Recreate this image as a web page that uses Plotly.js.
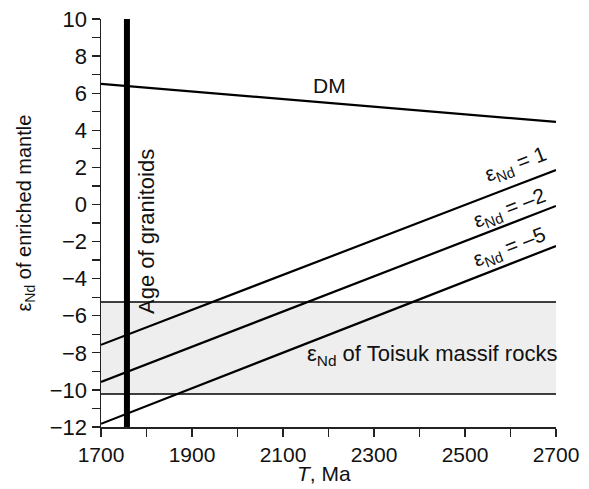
<!DOCTYPE html>
<html>
<head>
<meta charset="utf-8">
<script src="https://cdn.plot.ly/plotly-3.0.1.min.js"></script>
<style>html,body{margin:0;padding:0;background:#fff;}#chart{width:589px;height:489px;}</style>
</head>
<body>
<div id="chart"></div>
<script>
// ---- data ----
const ageEnds = [1700, 2700];            // T, Ma (line end points)
const dmEps = [6.5, 4.45];               // DM
const eps1 = [-7.57, 1.86];              // eNd = 1
const epsMinus2 = [-9.57, -0.08];        // eNd = -2
const epsMinus5 = [-11.83, -2.24];       // eNd = -5
const toisukLow = -10.22;                // band of eNd of Toisuk massif rocks
const toisukHigh = -5.26;
const granitoidAge = 1757;               // age of granitoids
const yExtent = [10, -12];
const xTickVals = [1700,1800,1900,2000,2100,2200,2300,2400,2500,2600,2700];
const xTickText = ["1700"," ","1900"," ","2100"," ","2300"," ","2500"," ","2700"];
const yTickVals = [-12,-11,-10,-9,-8,-7,-6,-5,-4,-3,-2,-1,0,1,2,3,4,5,6,7,8,9,10];
const yTickText = ["\u221212"," ","\u221210"," ","\u22128"," ","\u22126"," ","\u22124"," ","\u22122"," ","0"," ","2"," ","4"," ","6"," ","8"," ","10"];

const FONT = "Liberation Sans, Arial, Helvetica, sans-serif";
const blk = "#000";

const traces = [
  {x:[ageEnds[0],ageEnds[1],ageEnds[1],ageEnds[0]], y:[toisukLow,toisukLow,toisukHigh,toisukHigh],
   fill:"toself", fillcolor:"#eeeeee", mode:"none", hoverinfo:"skip"},
  {x:ageEnds, y:[toisukLow,toisukLow], mode:"lines", line:{color:blk,width:1.6}},
  {x:ageEnds, y:[toisukHigh,toisukHigh], mode:"lines", line:{color:blk,width:1.6}},
  {x:ageEnds, y:dmEps, mode:"lines", line:{color:blk,width:2.2}},
  {x:ageEnds, y:eps1, mode:"lines", line:{color:blk,width:2.2}},
  {x:ageEnds, y:epsMinus2, mode:"lines", line:{color:blk,width:2.2}},
  {x:ageEnds, y:epsMinus5, mode:"lines", line:{color:blk,width:2.2}},
  {x:[granitoidAge,granitoidAge], y:yExtent, mode:"lines", line:{color:blk,width:6}}
];

const lblFont = {family:FONT, size:22, color:"#111"};
const lineLblFont = {family:FONT, size:21, color:"#111"};
const layout = {
  width:589, height:489,
  margin:{l:101, r:33, t:19, b:62},
  paper_bgcolor:"#fff", plot_bgcolor:"#fff",
  showlegend:false,
  font:{family:FONT, color:"#111"},
  xaxis:{range:[1700,2700], tickvals:xTickVals, ticktext:xTickText, ticks:"outside", ticklen:8,
         tickwidth:1.3, tickcolor:"#222", showline:true, linecolor:"#222", linewidth:1.5,
         showgrid:false, zeroline:false, tickfont:{family:FONT,size:21,color:"#111"}},
  yaxis:{range:[-12,10], tickvals:yTickVals, ticktext:yTickText, ticks:"outside", ticklen:8,
         tickwidth:1.3, tickcolor:"#222", showline:true, linecolor:"#222", linewidth:1.5,
         showgrid:false, zeroline:false, tickfont:{family:FONT,size:22,color:"#111"}},
  annotations:[
    {xref:"paper", yref:"paper", x:-0.168, y:0.5245, text:"\u03b5<sub>Nd</sub> of enriched mantle",
     textangle:-90, showarrow:false, font:{family:FONT,size:20,color:"#111"}, xanchor:"center", yanchor:"middle"},
    {xref:"paper", yref:"paper", x:0.49, y:-0.113, text:"<i>T</i>, Ma", showarrow:false,
     font:{family:FONT,size:21,color:"#111"}, xanchor:"center", yanchor:"middle"},
    {x:2203, y:6.39, text:"DM", showarrow:false, font:{family:FONT,size:21,color:"#111"}},
    {x:2612, y:2.13, text:"\u03b5<sub>Nd</sub> = 1", textangle:-21, showarrow:false, font:lineLblFont},
    {x:2597, y:-0.24, text:"\u03b5<sub>Nd</sub> = \u20132", textangle:-21, showarrow:false, font:lineLblFont},
    {x:2597, y:-2.35, text:"\u03b5<sub>Nd</sub> = \u20135", textangle:-21, showarrow:false, font:lineLblFont},
    {x:2427, y:-8.11, text:"\u03b5<sub>Nd</sub> of Toisuk massif rocks", showarrow:false, font:lblFont},
    {x:1801, y:-1.43, text:"Age of granitoids", textangle:-90, showarrow:false, font:lblFont}
  ]
};

Plotly.newPlot("chart", traces, layout, {staticPlot:true, displayModeBar:false});
</script>
</body>
</html>
